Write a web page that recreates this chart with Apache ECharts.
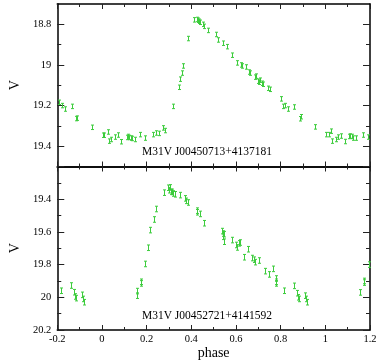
<!DOCTYPE html>
<html>
<head>
<meta charset="utf-8">
<script src="https://cdn.jsdelivr.net/npm/echarts@6/dist/echarts.min.js"></script>
<style>
  html, body { margin: 0; padding: 0; background: #fff; }
  #chart { width: 380px; height: 361px; }
</style>
</head>
<body>
<div id="chart"></div>
<script>
// top star: M31V J00450713+4137181
var topPhase = [-0.191, -0.181, -0.167, -0.134, -0.117, -0.110, -0.045, 0.004, 0.011, 0.027, 0.033, 0.041,
  0.058, 0.073, 0.087, 0.113, 0.118, 0.122, 0.128, 0.134, 0.147, 0.172, 0.194, 0.227, 0.244, 0.255,
  0.272, 0.282, 0.318, 0.344, 0.351, 0.358, 0.365, 0.387, 0.413, 0.425, 0.430, 0.435, 0.440, 0.452,
  0.456, 0.475, 0.511, 0.520, 0.543, 0.560, 0.580, 0.605, 0.624, 0.628, 0.646, 0.658, 0.662, 0.683,
  0.690, 0.697, 0.702, 0.707, 0.715, 0.722, 0.742, 0.753, 0.800, 0.809, 0.820, 0.832, 0.862, 0.886,
  0.893, 0.953, 1.005, 1.015, 1.026, 1.030, 1.046, 1.057, 1.070, 1.086, 1.106, 1.112, 1.118, 1.126,
  1.137, 1.170, 1.190];
var topV = [19.184, 19.200, 19.217, 19.204, 19.264, 19.262, 19.307, 19.346, 19.346, 19.330, 19.375, 19.367,
  19.355, 19.345, 19.378, 19.357, 19.352, 19.357, 19.360, 19.362, 19.367, 19.343, 19.360, 19.343, 19.335, 19.337,
  19.310, 19.323, 19.204, 19.110, 19.070, 19.040, 19.005, 18.870, 18.778, 18.776, 18.780, 18.785, 18.790, 18.800,
  18.810, 18.830, 18.850, 18.877, 18.893, 18.910, 18.952, 18.990, 19.000, 19.005, 19.010, 19.035, 19.040, 19.060,
  19.055, 19.080, 19.085, 19.075, 19.090, 19.095, 19.115, 19.120, 19.167, 19.204, 19.200, 19.217, 19.207, 19.265,
  19.255, 19.305, 19.343, 19.343, 19.326, 19.375, 19.367, 19.355, 19.350, 19.377, 19.352, 19.350, 19.352, 19.360,
  19.360, 19.345, 19.355];
var topErr = 0.011;

// bottom star: M31V J00452721+4141592
var botPhase = [-0.184, -0.139, -0.124, -0.119, -0.116, -0.089, -0.084, -0.080, 0.155, 0.158, 0.173, 0.176,
  0.194, 0.208, 0.215, 0.232, 0.241, 0.278, 0.295, 0.302, 0.306, 0.308, 0.313, 0.318, 0.325, 0.350,
  0.372, 0.376, 0.387, 0.425, 0.427, 0.440, 0.456, 0.538, 0.540, 0.542, 0.548, 0.546, 0.580, 0.602,
  0.604, 0.612, 0.617, 0.637, 0.656, 0.672, 0.680, 0.687, 0.705, 0.732, 0.750, 0.765, 0.778, 0.780,
  0.779, 0.816, 0.860, 0.875, 0.878, 0.880, 0.910, 0.913, 0.919, 1.154, 1.171, 1.174, 1.196];
var botV = [19.960, 19.928, 19.969, 19.995, 20.005, 19.985, 20.010, 20.030, 19.962, 19.990, 19.915, 19.905,
  19.796, 19.697, 19.589, 19.524, 19.460, 19.360, 19.330, 19.345, 19.328, 19.355, 19.355, 19.365, 19.370, 19.375,
  19.395, 19.410, 19.420, 19.470, 19.480, 19.490, 19.547, 19.595, 19.610, 19.630, 19.614, 19.660, 19.650, 19.680,
  19.695, 19.670, 19.665, 19.755, 19.706, 19.760, 19.770, 19.785, 19.775, 19.840, 19.860, 19.826, 19.885, 19.905,
  19.915, 19.960, 19.930, 19.975, 20.000, 20.010, 19.990, 20.010, 20.030, 19.970, 19.910, 19.900, 19.800];
var botErr = 0.017;

var topMajor = [18.8, 19, 19.2, 19.4];
var topMinor = [18.9, 19.1, 19.3];

var green = '#3ccc3c';
var serif = '"Liberation Serif", "DejaVu Serif", serif';

function pack(xs, ys, e) {
  var out = [];
  for (var i = 0; i < xs.length; i++) out.push([xs[i], ys[i], e]);
  return out;
}

function renderErr(params, api) {
  var x = api.value(0), v = api.value(1), e = api.value(2);
  var a = api.coord([x, v - e]);
  var b = api.coord([x, v + e]);
  var cx = Math.round(a[0]) + 0.5;
  var st = { stroke: green, lineWidth: 1 };
  return {
    type: 'group',
    children: [
      { type: 'line', shape: { x1: cx, y1: a[1], x2: cx, y2: b[1] }, style: st },
      { type: 'line', shape: { x1: cx - 1.5, y1: a[1], x2: cx + 1.5, y2: a[1] }, style: st },
      { type: 'line', shape: { x1: cx - 1.5, y1: b[1], x2: cx + 1.5, y2: b[1] }, style: st }
    ]
  };
}

var frame = { show: true, onZero: false, lineStyle: { color: '#000', width: 1.5 } };
var noLine = { show: false, onZero: false };

function xAxisFor(grid, pos, labels) {
  return {
    type: 'value', gridIndex: grid, position: pos,
    min: -0.2, max: 1.2, interval: 0.2,
    axisLine: frame,
    axisTick: { show: true, inside: true, length: 5, lineStyle: { color: '#222' } },
    minorTick: { show: true, splitNumber: 2, length: 3, lineStyle: { color: '#222' } },
    axisLabel: {
      show: labels, margin: 4, color: '#000', fontFamily: serif, fontSize: 10.5,
      formatter: function (v) { return String(Math.round(v * 10) / 10); }
    },
    splitLine: { show: false },
    name: labels ? 'phase' : '', nameLocation: 'middle', nameGap: 14,
    nameTextStyle: { color: '#000', fontFamily: serif, fontSize: 14 }
  };
}

function topY(pos, vals, len, labels, line) {
  return {
    type: 'value', gridIndex: 0, position: pos, inverse: true,
    min: 18.7, max: 19.5,
    axisLine: line ? frame : noLine,
    axisTick: { show: true, inside: true, length: len, customValues: vals, lineStyle: { color: '#222' } },
    axisLabel: {
      show: labels, customValues: vals, margin: 6, color: '#000', fontFamily: serif, fontSize: 10.5,
      formatter: function (v) { return String(Math.round(v * 10) / 10); }
    },
    splitLine: { show: false },
    name: labels ? 'V' : '', nameLocation: 'middle', nameGap: 28,
    nameTextStyle: { color: '#000', fontFamily: serif, fontSize: 14 }
  };
}

function botY(pos, labels) {
  return {
    type: 'value', gridIndex: 1, position: pos, inverse: true,
    min: 19.2, max: 20.2, interval: 0.2,
    axisLine: frame,
    axisTick: { show: true, inside: true, length: 7, lineStyle: { color: '#222' } },
    minorTick: { show: true, splitNumber: 2, length: 4, lineStyle: { color: '#222' } },
    axisLabel: {
      show: labels, margin: 6, color: '#000', fontFamily: serif, fontSize: 10.5,
      formatter: function (v) {
        var r = Math.round(v * 10) / 10;
        return r === 19.2 ? '' : String(r);
      }
    },
    splitLine: { show: false },
    name: labels ? 'V' : '', nameLocation: 'middle', nameGap: 28,
    nameTextStyle: { color: '#000', fontFamily: serif, fontSize: 14 }
  };
}

var chart = echarts.init(document.getElementById('chart'), null, { renderer: 'canvas' });

var option = {
  animation: false,
  backgroundColor: '#fff',
  grid: [
    { left: 43, right: 10, top: 4, bottom: 194.5 },
    { left: 43, right: 10, top: 166.5, bottom: 31 }
  ],
  xAxis: [
    xAxisFor(0, 'bottom', false),
    xAxisFor(0, 'top', false),
    xAxisFor(1, 'bottom', true),
    xAxisFor(1, 'top', false)
  ],
  yAxis: [
    topY('left', topMajor, 7, true, true),
    topY('left', topMinor, 4, false, false),
    topY('right', topMajor, 7, false, true),
    topY('right', topMinor, 4, false, false),
    botY('left', true),
    botY('right', false)
  ],
  graphic: [
    { type: 'text', x: 207, y: 152, style: { text: 'M31V J00450713+4137181', align: 'center', verticalAlign: 'middle', font: '11.5px ' + serif, fill: '#000' } },
    { type: 'text', x: 207, y: 316, style: { text: 'M31V J00452721+4141592', align: 'center', verticalAlign: 'middle', font: '11.5px ' + serif, fill: '#000' } }
  ],
  series: [
    { type: 'custom', xAxisIndex: 0, yAxisIndex: 0, renderItem: renderErr, data: pack(topPhase, topV, topErr), clip: true },
    { type: 'custom', xAxisIndex: 2, yAxisIndex: 4, renderItem: renderErr, data: pack(botPhase, botV, botErr), clip: true }
  ]
};

chart.setOption(option);
</script>
</body>
</html>
